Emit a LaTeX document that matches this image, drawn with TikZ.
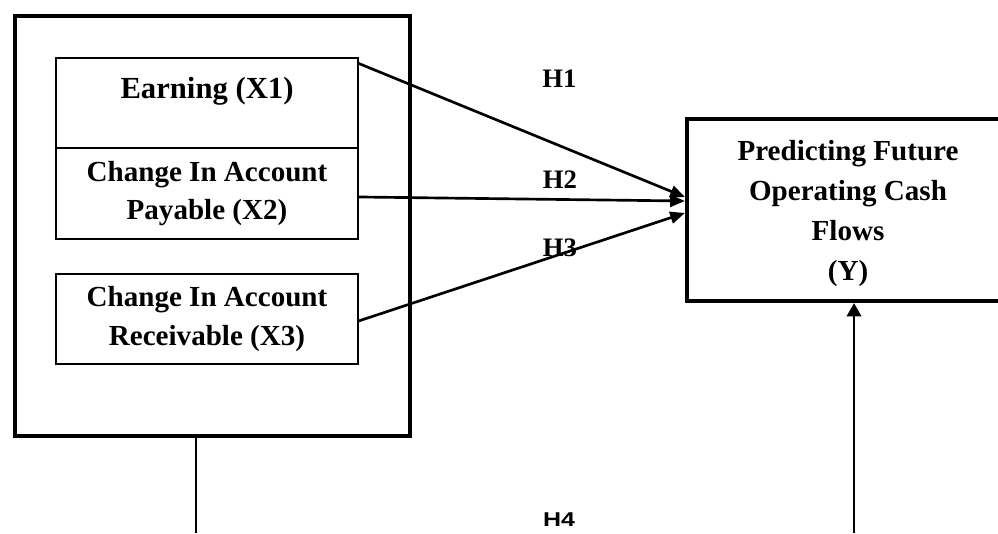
\documentclass[tikz,border=0pt]{standalone}
\usepackage{fontspec}
\setmainfont{Liberation Serif}
\newfontfamily\hfont{Liberation Sans}
\usetikzlibrary{arrows.meta}

\begin{document}
\begin{tikzpicture}[x=0.75pt,y=-0.75pt,>={Triangle[length=11pt,width=9pt]}]
      \tikzstyle{var text}=[font=\fontsize{21.8pt}{29pt}\selectfont\bfseries, align=center]
      \tikzstyle{var box}=[var text, draw, line width=0.9pt, minimum width=226.5pt, inner sep=0pt]
      \tikzstyle{group box}=[draw, line width=3pt, minimum width=296pt, minimum height=315pt]
      \tikzstyle{result box}=[var text, font=\fontsize{21.8pt}{30pt}\selectfont\bfseries, draw, line width=3.2pt, minimum width=241.5pt, minimum height=136.5pt]
      \tikzstyle{hyp}=[line width=2pt, ->]
      \tikzstyle{hlabel}=[font=\fontsize{20pt}{24pt}\selectfont\bfseries]

      \useasboundingbox (0,0) rectangle (998,533);

      % Draw the independent variables
      \node[group box] (group) at (212.5,226) {};
      \node[var box, minimum height=67.5pt, font=\fontsize{23pt}{26pt}\selectfont\bfseries] (earn) at (207,103) {Earning (X1)\\[-4pt] \mbox{}};
      \node[var box, minimum height=68.25pt] (pay) at (207,193.5) {Change In Account\\Payable (X2)};
      \node[var box, minimum height=67.5pt] (recv) at (207,319) {Change In Account\\Receivable (X3)};

      % Draw the dependent variable
      \node[result box, text depth=-2pt] (pred) at (848,210) {Predicting Future\\Operating Cash\\Flows\\(Y)};

      % Connect the variables with the hypotheses
      \draw[hyp] ([yshift=-4.5pt]earn.north east) -- ([yshift=9.75pt]pred.west);
      \draw[hyp] ([yshift=-2.6pt]pay.east) -- ([yshift=6.75pt]pred.west);
      \draw[hyp] ([yshift=-1.5pt]recv.east) -- ([yshift=-2.25pt]pred.west);

      \coordinate (left foot) at (196,533);
      \coordinate (right foot) at (854,533);
      \draw[line width=1.5pt] (group.south -| left foot) -- (left foot);
      \draw[line width=1.5pt, -{Triangle[length=10pt,width=11pt]}] (right foot) -- (right foot |- pred.south);

      % Annotate the hypotheses
      \node[hlabel] (h1) at (559.5,79) {H1};
      \node[hlabel] (h2) at (560,180) {H2};
      \node[hlabel] (h3) at (560,248) {H3};
      \node[hlabel, font=\hfont\fontsize{15pt}{18pt}\selectfont\bfseries, xscale=1.25] (h4) at (559,520) {H4};
  \end{tikzpicture}
\end{document}
